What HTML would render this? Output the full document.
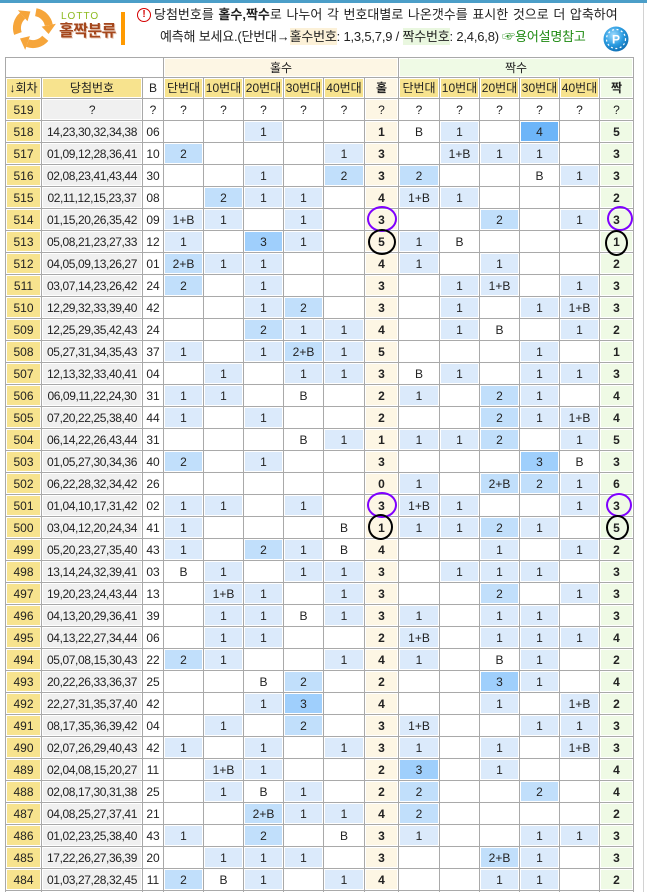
<!DOCTYPE html>
<html><head><meta charset="utf-8">
<style>
*{margin:0;padding:0;box-sizing:border-box}
html,body{width:647px;height:892px;overflow:hidden;background:#fff}
body{position:relative;font-family:"Liberation Sans","Noto Sans CJK KR",sans-serif;color:#222}
#bar{position:absolute;left:0;top:0;width:647px;height:3px;background:#4b9ec8}
#vl{position:absolute;left:643px;top:3px;width:1px;height:889px;background:#d2d2d2}
#logo{position:absolute;left:0;top:0}
#lotto{position:absolute;left:61px;top:11px;font-size:10px;letter-spacing:1px;color:#8dba1f;line-height:11px}
#ttl{position:absolute;left:59px;top:22px;font-size:16px;font-weight:bold;color:#a4461c;letter-spacing:-0.5px;line-height:20px;text-shadow:1px 1px 0 #e8c9b8}
#ob{position:absolute;left:121px;top:12px;width:4px;height:33px;background:#ff9a00}
#ex{position:absolute;left:137px;top:8px;width:14px;height:14px;border:1.5px solid #d40000;border-radius:50%;color:#d40000;font-size:10px;font-weight:bold;text-align:center;line-height:11px}
.ln{position:absolute;font-size:13px;line-height:16px;white-space:nowrap;color:#222;word-spacing:1px}
#l1{left:154px;top:7px}
#l2{left:160px;top:29px;word-spacing:0;letter-spacing:-0.2px}
.hy{background:#fcf1d8;padding:1px 0}
.hg{background:#e9f7df;padding:1px 0}
.gl{color:#1e8a12}
#t{position:absolute;left:5px;top:57px;display:grid;
grid-template-columns:35px 100px 20px 39px 39px 39px 39px 40px 33px 40px 39px 39px 39px 39px 33px;
grid-template-rows:19px 20px;grid-auto-rows:21px;gap:1px;padding:1px;background:#a9a9a9}
#t>i{font-style:normal;background:#fff;box-shadow:inset 0 0 0 1px #fff;display:flex;align-items:center;justify-content:center;font-size:12px;line-height:14px;white-space:nowrap;color:#222}
#t>i.y{background:#f7e38e}
#t>i.g{background:#f0f0f0;letter-spacing:-0.4px}
#t>i.c{background:#fdf6e4;font-weight:bold}
#t>i.n{background:#effae5;font-weight:bold}
#t>i.b1{background:#dbeafb}
#t>i.b2{background:#c1dffb}
#t>i.b3{background:#9fcffc}
#t>i.b4{background:#6db5f8}
#t>i.h1{grid-column:1/4}
#t>i.hh{grid-column:4/10;background:#fdf6e4}
#t>i.hj{grid-column:10/16;background:#effae5}
.ci{position:absolute;border-radius:50%;border:2px solid #000}
.pu{border-color:#7f00ff}
</style></head><body>
<div id="bar"></div>
<div id="vl"></div>
<svg id="logo" width="60" height="56" viewBox="0 0 60 56">
<defs>
<g id="ar">
<path d="M35.8,12.2 A16,16 0 0 1 48.8,25.2" fill="none" stroke="#f6a53a" stroke-width="8"/>
<polygon points="55.9,23.8 41.6,26.6 48.6,34" fill="#f6a53a"/>
</g>
</defs>
<use href="#ar"/>
<use href="#ar" transform="rotate(120 33 28)"/>
<use href="#ar" transform="rotate(240 33 28)"/>
</svg>
<div id="lotto">LOTTO</div>
<div id="ttl">홀짝분류</div>
<div id="ob"></div>
<div id="ex">!</div>
<div class="ln" id="l1">당첨번호를 <b>홀수,짝수</b>로 나누어 각 번호대별로 나온갯수를 표시한 것으로 더 압축하여</div>
<div class="ln" id="l2">예측해 보세요.(단번대→<span class="hy">홀수번호</span>: 1,3,5,7,9 / <span class="hg">짝수번호</span>: 2,4,6,8) <span class="gl">☞용어설명참고</span></div>
<svg style="position:absolute;left:602px;top:25px" width="28" height="28" viewBox="0 0 28 28">
<defs><radialGradient id="bg" cx="40%" cy="35%" r="65%"><stop offset="0" stop-color="#9fdcff"/><stop offset="0.6" stop-color="#2a9be0"/><stop offset="1" stop-color="#1173b8"/></radialGradient></defs>
<circle cx="14" cy="14" r="12.5" fill="url(#bg)"/>
<circle cx="14" cy="14" r="9.5" fill="none" stroke="#fff" stroke-width="1.2" stroke-dasharray="2 2.5"/>
<text x="14" y="18.5" font-size="12" font-weight="bold" fill="#fff" text-anchor="middle" font-family="Liberation Sans,sans-serif">P</text>
</svg>

<div id="t">
<i class="h1"></i><i class="hh">홀수</i><i class="hj">짝수</i>
<i class="y">↓회차</i><i class="y">당첨번호</i><i>B</i><i class="y">단번대</i><i class="y">10번대</i><i class="y">20번대</i><i class="y">30번대</i><i class="y">40번대</i><i class="c">홀</i><i class="y">단번대</i><i class="y">10번대</i><i class="y">20번대</i><i class="y">30번대</i><i class="y">40번대</i><i class="n">짝</i>

<i class="y">519</i><i class="g">?</i><i>?</i><i>?</i><i>?</i><i>?</i><i>?</i><i>?</i><i class="c" style="font-weight:normal">?</i><i>?</i><i>?</i><i>?</i><i>?</i><i>?</i><i class="n" style="font-weight:normal">?</i>

<i class="y">518</i><i class="g">14,23,30,32,34,38</i><i>06</i><i></i><i></i><i class="b1">1</i><i></i><i></i><i class="c">1</i><i>B</i><i class="b1">1</i><i></i><i class="b4">4</i><i></i><i class="n">5</i>

<i class="y">517</i><i class="g">01,09,12,28,36,41</i><i>10</i><i class="b2">2</i><i></i><i></i><i></i><i class="b1">1</i><i class="c">3</i><i></i><i class="b1">1+B</i><i class="b1">1</i><i class="b1">1</i><i></i><i class="n">3</i>

<i class="y">516</i><i class="g">02,08,23,41,43,44</i><i>30</i><i></i><i></i><i class="b1">1</i><i></i><i class="b2">2</i><i class="c">3</i><i class="b2">2</i><i></i><i></i><i>B</i><i class="b1">1</i><i class="n">3</i>

<i class="y">515</i><i class="g">02,11,12,15,23,37</i><i>08</i><i></i><i class="b2">2</i><i class="b1">1</i><i class="b1">1</i><i></i><i class="c">4</i><i class="b1">1+B</i><i class="b1">1</i><i></i><i></i><i></i><i class="n">2</i>

<i class="y">514</i><i class="g">01,15,20,26,35,42</i><i>09</i><i class="b1">1+B</i><i class="b1">1</i><i></i><i class="b1">1</i><i></i><i class="c">3</i><i></i><i></i><i class="b2">2</i><i></i><i class="b1">1</i><i class="n">3</i>

<i class="y">513</i><i class="g">05,08,21,23,27,33</i><i>12</i><i class="b1">1</i><i></i><i class="b3">3</i><i class="b1">1</i><i></i><i class="c">5</i><i class="b1">1</i><i>B</i><i></i><i></i><i></i><i class="n">1</i>

<i class="y">512</i><i class="g">04,05,09,13,26,27</i><i>01</i><i class="b2">2+B</i><i class="b1">1</i><i class="b1">1</i><i></i><i></i><i class="c">4</i><i class="b1">1</i><i></i><i class="b1">1</i><i></i><i></i><i class="n">2</i>

<i class="y">511</i><i class="g">03,07,14,23,26,42</i><i>24</i><i class="b2">2</i><i></i><i class="b1">1</i><i></i><i></i><i class="c">3</i><i></i><i class="b1">1</i><i class="b1">1+B</i><i></i><i class="b1">1</i><i class="n">3</i>

<i class="y">510</i><i class="g">12,29,32,33,39,40</i><i>42</i><i></i><i></i><i class="b1">1</i><i class="b2">2</i><i></i><i class="c">3</i><i></i><i class="b1">1</i><i></i><i class="b1">1</i><i class="b1">1+B</i><i class="n">3</i>

<i class="y">509</i><i class="g">12,25,29,35,42,43</i><i>24</i><i></i><i></i><i class="b2">2</i><i class="b1">1</i><i class="b1">1</i><i class="c">4</i><i></i><i class="b1">1</i><i>B</i><i></i><i class="b1">1</i><i class="n">2</i>

<i class="y">508</i><i class="g">05,27,31,34,35,43</i><i>37</i><i class="b1">1</i><i></i><i class="b1">1</i><i class="b2">2+B</i><i class="b1">1</i><i class="c">5</i><i></i><i></i><i></i><i class="b1">1</i><i></i><i class="n">1</i>

<i class="y">507</i><i class="g">12,13,32,33,40,41</i><i>04</i><i></i><i class="b1">1</i><i></i><i class="b1">1</i><i class="b1">1</i><i class="c">3</i><i>B</i><i class="b1">1</i><i></i><i class="b1">1</i><i class="b1">1</i><i class="n">3</i>

<i class="y">506</i><i class="g">06,09,11,22,24,30</i><i>31</i><i class="b1">1</i><i class="b1">1</i><i></i><i>B</i><i></i><i class="c">2</i><i class="b1">1</i><i></i><i class="b2">2</i><i class="b1">1</i><i></i><i class="n">4</i>

<i class="y">505</i><i class="g">07,20,22,25,38,40</i><i>44</i><i class="b1">1</i><i></i><i class="b1">1</i><i></i><i></i><i class="c">2</i><i></i><i></i><i class="b2">2</i><i class="b1">1</i><i class="b1">1+B</i><i class="n">4</i>

<i class="y">504</i><i class="g">06,14,22,26,43,44</i><i>31</i><i></i><i></i><i></i><i>B</i><i class="b1">1</i><i class="c">1</i><i class="b1">1</i><i class="b1">1</i><i class="b2">2</i><i></i><i class="b1">1</i><i class="n">5</i>

<i class="y">503</i><i class="g">01,05,27,30,34,36</i><i>40</i><i class="b2">2</i><i></i><i class="b1">1</i><i></i><i></i><i class="c">3</i><i></i><i></i><i></i><i class="b3">3</i><i>B</i><i class="n">3</i>

<i class="y">502</i><i class="g">06,22,28,32,34,42</i><i>26</i><i></i><i></i><i></i><i></i><i></i><i class="c">0</i><i class="b1">1</i><i></i><i class="b2">2+B</i><i class="b2">2</i><i class="b1">1</i><i class="n">6</i>

<i class="y">501</i><i class="g">01,04,10,17,31,42</i><i>02</i><i class="b1">1</i><i class="b1">1</i><i></i><i class="b1">1</i><i></i><i class="c">3</i><i class="b1">1+B</i><i class="b1">1</i><i></i><i></i><i class="b1">1</i><i class="n">3</i>

<i class="y">500</i><i class="g">03,04,12,20,24,34</i><i>41</i><i class="b1">1</i><i></i><i></i><i></i><i>B</i><i class="c">1</i><i class="b1">1</i><i class="b1">1</i><i class="b2">2</i><i class="b1">1</i><i></i><i class="n">5</i>

<i class="y">499</i><i class="g">05,20,23,27,35,40</i><i>43</i><i class="b1">1</i><i></i><i class="b2">2</i><i class="b1">1</i><i>B</i><i class="c">4</i><i></i><i></i><i class="b1">1</i><i></i><i class="b1">1</i><i class="n">2</i>

<i class="y">498</i><i class="g">13,14,24,32,39,41</i><i>03</i><i>B</i><i class="b1">1</i><i></i><i class="b1">1</i><i class="b1">1</i><i class="c">3</i><i></i><i class="b1">1</i><i class="b1">1</i><i class="b1">1</i><i></i><i class="n">3</i>

<i class="y">497</i><i class="g">19,20,23,24,43,44</i><i>13</i><i></i><i class="b1">1+B</i><i class="b1">1</i><i></i><i class="b1">1</i><i class="c">3</i><i></i><i></i><i class="b2">2</i><i></i><i class="b1">1</i><i class="n">3</i>

<i class="y">496</i><i class="g">04,13,20,29,36,41</i><i>39</i><i></i><i class="b1">1</i><i class="b1">1</i><i>B</i><i class="b1">1</i><i class="c">3</i><i class="b1">1</i><i></i><i class="b1">1</i><i class="b1">1</i><i></i><i class="n">3</i>

<i class="y">495</i><i class="g">04,13,22,27,34,44</i><i>06</i><i></i><i class="b1">1</i><i class="b1">1</i><i></i><i></i><i class="c">2</i><i class="b1">1+B</i><i></i><i class="b1">1</i><i class="b1">1</i><i class="b1">1</i><i class="n">4</i>

<i class="y">494</i><i class="g">05,07,08,15,30,43</i><i>22</i><i class="b2">2</i><i class="b1">1</i><i></i><i></i><i class="b1">1</i><i class="c">4</i><i class="b1">1</i><i></i><i>B</i><i class="b1">1</i><i></i><i class="n">2</i>

<i class="y">493</i><i class="g">20,22,26,33,36,37</i><i>25</i><i></i><i></i><i>B</i><i class="b2">2</i><i></i><i class="c">2</i><i></i><i></i><i class="b3">3</i><i class="b1">1</i><i></i><i class="n">4</i>

<i class="y">492</i><i class="g">22,27,31,35,37,40</i><i>42</i><i></i><i></i><i class="b1">1</i><i class="b3">3</i><i></i><i class="c">4</i><i></i><i></i><i class="b1">1</i><i></i><i class="b1">1+B</i><i class="n">2</i>

<i class="y">491</i><i class="g">08,17,35,36,39,42</i><i>04</i><i></i><i class="b1">1</i><i></i><i class="b2">2</i><i></i><i class="c">3</i><i class="b1">1+B</i><i></i><i></i><i class="b1">1</i><i class="b1">1</i><i class="n">3</i>

<i class="y">490</i><i class="g">02,07,26,29,40,43</i><i>42</i><i class="b1">1</i><i></i><i class="b1">1</i><i></i><i class="b1">1</i><i class="c">3</i><i class="b1">1</i><i></i><i class="b1">1</i><i></i><i class="b1">1+B</i><i class="n">3</i>

<i class="y">489</i><i class="g">02,04,08,15,20,27</i><i>11</i><i></i><i class="b1">1+B</i><i class="b1">1</i><i></i><i></i><i class="c">2</i><i class="b3">3</i><i></i><i class="b1">1</i><i></i><i></i><i class="n">4</i>

<i class="y">488</i><i class="g">02,08,17,30,31,38</i><i>25</i><i></i><i class="b1">1</i><i>B</i><i class="b1">1</i><i></i><i class="c">2</i><i class="b2">2</i><i></i><i></i><i class="b2">2</i><i></i><i class="n">4</i>

<i class="y">487</i><i class="g">04,08,25,27,37,41</i><i>21</i><i></i><i></i><i class="b2">2+B</i><i class="b1">1</i><i class="b1">1</i><i class="c">4</i><i class="b2">2</i><i></i><i></i><i></i><i></i><i class="n">2</i>

<i class="y">486</i><i class="g">01,02,23,25,38,40</i><i>43</i><i class="b1">1</i><i></i><i class="b2">2</i><i></i><i>B</i><i class="c">3</i><i class="b1">1</i><i></i><i></i><i class="b1">1</i><i class="b1">1</i><i class="n">3</i>

<i class="y">485</i><i class="g">17,22,26,27,36,39</i><i>20</i><i></i><i class="b1">1</i><i class="b1">1</i><i class="b1">1</i><i></i><i class="c">3</i><i></i><i></i><i class="b2">2+B</i><i class="b1">1</i><i></i><i class="n">3</i>

<i class="y">484</i><i class="g">01,03,27,28,32,45</i><i>11</i><i class="b2">2</i><i>B</i><i class="b1">1</i><i></i><i class="b1">1</i><i class="c">4</i><i></i><i></i><i class="b1">1</i><i class="b1">1</i><i></i><i class="n">2</i>

<i class="y"></i><i class="g"></i><i></i><i></i><i></i><i></i><i></i><i></i><i class="c"></i><i></i><i></i><i></i><i></i><i></i><i class="n"></i>
</div>

<div class="ci pu" style="left:367px;top:206px;width:30px;height:26px"></div>
<div class="ci pu" style="left:607px;top:206px;width:26px;height:25px"></div>
<div class="ci" style="left:368px;top:229px;width:28px;height:26px"></div>
<div class="ci" style="left:605px;top:230px;width:23px;height:26px"></div>
<div class="ci pu" style="left:367px;top:492px;width:30px;height:26px"></div>
<div class="ci pu" style="left:606px;top:493px;width:26px;height:24px"></div>
<div class="ci" style="left:368px;top:514px;width:25px;height:26px"></div>
<div class="ci" style="left:606px;top:515px;width:23px;height:25px"></div>
</body></html>
